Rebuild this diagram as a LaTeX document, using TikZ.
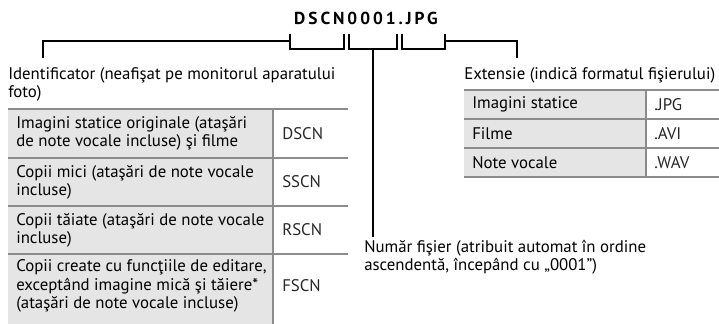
\documentclass[tikz,border=0pt]{standalone}
\usepackage{fontspec}
\setmainfont{PT Sans}
\newfontfamily\titlefont[LetterSpace=17]{PT Sans}
\begin{document}
\begin{tikzpicture}[
      x=0.75pt, y=-0.75pt,
      bracket/.style={line width=1.5pt, draw=black},
      rule/.style={line width=1.9pt, draw=black!45},
      cell/.style={fill=black!10},
      caption/.style={font=\fontsize{12.6}{13.6}\selectfont, align=left, anchor=west, inner sep=0pt},
      code/.style={caption, text=black!85},
      title/.style={font=\titlefont\fontsize{13}{15}\selectfont\bfseries, inner sep=0pt},
    ]
    \useasboundingbox (0,0) rectangle (719,324);

    % -------------------------------------------------------
    %  File name and its three parts
    % -------------------------------------------------------
    \node[title] (name) at (366,18) {DSCN0001.JPG};
    \foreach \l/\r/\n in {290/344/id, 349/397/nr, 402/445/ext} {
      \draw[bracket] (\l,34) |- (\r,49) -- (\r,34);
      \coordinate (\n) at ({(\l+\r)/2},49);
    }
    \coordinate (idleft) at (290,41);
    \coordinate (extright) at (445,41);
    \coordinate (idfoot) at (43,58);
    \coordinate (extfoot) at (517,58);
    \coordinate (nrfoot) at (373,237);

    % Captions
    \node[caption] (ident) at (8,84) {Identificator (neafişat pe monitorul aparatului\\foto)};
    \node[caption] (extens) at (464,75) {Extensie (indică formatul fişierului)};
    \node[caption] (number) at (364,257) {Număr fişier (atribuit automat în ordine\\ascendentă, începând cu „0001”)};

    \draw[bracket] (idfoot) |- (idleft);
    \draw[bracket] (extright) -| (extfoot);
    \draw[bracket] (nr) -- (nrfoot);

    % -------------------------------------------------------
    %  Identifier table
    % -------------------------------------------------------
    \fill[cell] (8,109) rectangle (273,324);
    \foreach \y in {109,158,206,254} {
      \draw[rule] (8,\y) -- (348,\y);
    }
    \draw[rule] (273,109) -- (273,324);

    \node[caption] (orig) at (16,133.5) {Imagini statice originale (ataşări\\de note vocale incluse) şi filme};
    \node[code] (dscn) at (282,133.5) {DSCN};
    \node[caption] (small) at (16,182) {Copii mici (ataşări de note vocale\\incluse)};
    \node[code] (sscn) at (282,182) {SSCN};
    \node[caption] (crop) at (16,230) {Copii tăiate (ataşări de note vocale\\incluse)};
    \node[code] (rscn) at (282,230) {RSCN};
    \node[caption] (edit) at (16,286) {Copii create cu funcţiile de editare,\\exceptând imagine mică şi tăiere*\\(ataşări de note vocale incluse)};
    \node[code] (fscn) at (282,286) {FSCN};

    % -------------------------------------------------------
    %  Extension table
    % -------------------------------------------------------
    \fill[cell] (464,90) rectangle (646,177);
    \foreach \y in {90,119,148,177} {
      \draw[rule] (464,\y) -- (719,\y);
    }
    \draw[rule] (646,90) -- (646,177);

    \node[caption] (still) at (472,104.5) {Imagini statice};
    \node[code] (jpg) at (654,104.5) {.JPG};
    \node[caption] (movie) at (472,133.5) {Filme};
    \node[code] (avi) at (654,133.5) {.AVI};
    \node[caption] (voice) at (472,162.5) {Note vocale};
    \node[code] (wav) at (654,162.5) {.WAV};

  \end{tikzpicture}
\end{document}
